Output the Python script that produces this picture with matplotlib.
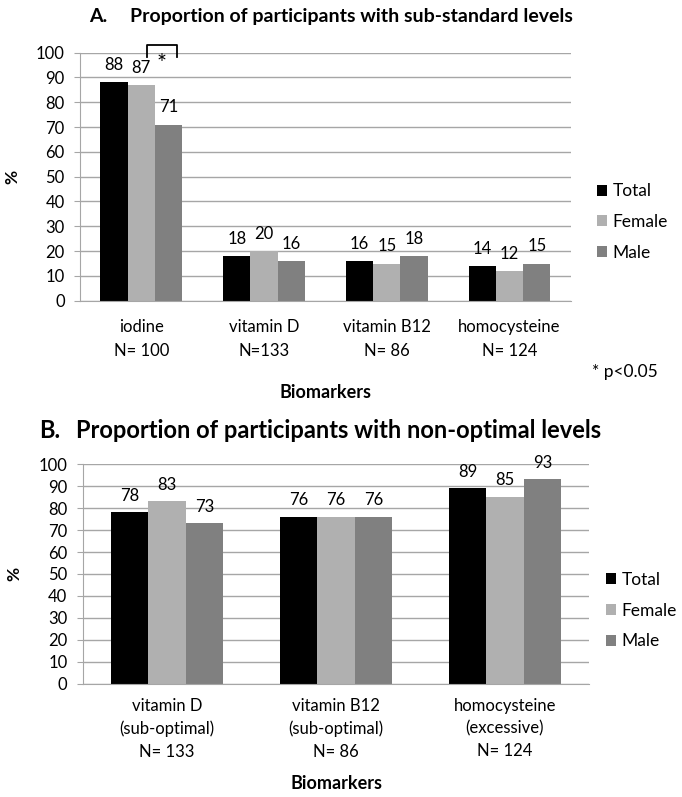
import numpy as np
import matplotlib.pyplot as plt

plt.rcParams['font.family'] = ['Lato', 'DejaVu Sans']

# ----- Panel A data -----
cats_a = ["iodine\nN= 100", "vitamin D\nN=133", "vitamin B12\nN= 86", "homocysteine\nN= 124"]
total_a = [88, 18, 16, 14]
female_a = [87, 20, 15, 12]
male_a = [71, 16, 18, 15]

# ----- Panel B data -----
cats_b = ["vitamin D\n(sub-optimal)\nN= 133", "vitamin B12\n(sub-optimal)\nN= 86",
          "homocysteine\n(excessive)\nN= 124"]
total_b = [78, 76, 89]
female_b = [83, 76, 85]
male_b = [73, 76, 93]

series_names = ["Total", "Female", "Male"]
colors = ["#000000", "#b0b0b0", "#808080"]
grid_col = "#a6a6a6"


def draw_panel(ax, cats, series, label_off, tick_pad, line_sp):
    x = np.arange(len(cats))
    w = 0.222
    for i, (vals, c, name) in enumerate(zip(series, colors, series_names)):
        xs = x + (i - 1) * w
        ax.bar(xs, vals, width=w, color=c, label=name, zorder=2)
        for xi, v in zip(xs, vals):
            ax.annotate(str(v), (xi, v), xytext=(0, label_off), textcoords="offset points",
                        ha="center", va="center", fontsize=12, zorder=3)
    ax.set_xlim(-0.5, len(cats) - 0.5)
    ax.set_ylim(0, 100)
    ax.set_yticks(range(0, 101, 10))
    ax.yaxis.grid(True, color=grid_col, linewidth=1, zorder=0)
    ax.set_axisbelow(True)
    ax.set_xticks(x)
    ax.set_xticklabels(cats, fontsize=12, linespacing=line_sp)
    ax.tick_params(axis="x", length=0, pad=tick_pad)
    ax.tick_params(axis="y", length=4, color=grid_col, labelsize=12, pad=7)
    for s in ["top", "right"]:
        ax.spines[s].set_visible(False)
    for s in ["left", "bottom"]:
        ax.spines[s].set_color(grid_col)
    ax.set_ylabel("%", fontsize=12.5, fontweight="bold")
    ax.set_xlabel("Biomarkers", fontsize=13, fontweight="bold")
    return x, w


def add_legend(ax, x_left, y_mid):
    ax.legend(loc="center left", bbox_to_anchor=(x_left, y_mid), bbox_transform=fig.transFigure,
              frameon=False, fontsize=12.5, handlelength=0.6, handleheight=0.6,
              handletextpad=0.3, labelspacing=0.85, borderpad=0, borderaxespad=0)


fig = plt.figure(figsize=(6.82, 7.97), dpi=100)

# ----- A -----
ax1 = fig.add_axes([0.1173, 0.6227, 0.7197, 0.3112])
x, w = draw_panel(ax1, cats_a, [total_a, female_a, male_a], 12.5, 13, 1.6)
ax1.xaxis.labelpad = 18
ax1.yaxis.set_label_coords(-0.122, 0.5)
add_legend(ax1, 0.8754, 0.7215)
# significance bracket between Female and Male for iodine
bx0 = x[0] + 0.05
bx1 = x[0] + w + 0.065
ax1.plot([bx0, bx0, bx1, bx1], [98.4, 103.2, 103.2, 98.4], color="black", lw=1.3,
         clip_on=False, zorder=4)
ax1.text((bx0 + bx1) / 2, 95.5, "*", ha="center", va="center", fontsize=17)
fig.text(0.868, 0.533, "* p<0.05", fontsize=12.5, va="center")
fig.text(0.13, 0.979, "A.", fontsize=14, fontweight="bold", va="center")
fig.text(0.19, 0.979, "Proportion of participants with sub-standard levels",
         fontsize=14, fontweight="bold", va="center")

# ----- B -----
ax2 = fig.add_axes([0.1213, 0.1418, 0.7428, 0.276])
draw_panel(ax2, cats_b, [total_b, female_b, male_b], 12, 10, 1.5)
ax2.xaxis.labelpad = 11
ax2.yaxis.set_label_coords(-0.12, 0.5)
add_legend(ax2, 0.8886, 0.2338)
fig.text(0.058, 0.46, "B.", fontsize=17, fontweight="bold", va="center")
fig.text(0.112, 0.46, "Proportion of participants with non-optimal levels",
         fontsize=17, fontweight="bold", va="center")

fig.savefig("out.png", dpi=100)
